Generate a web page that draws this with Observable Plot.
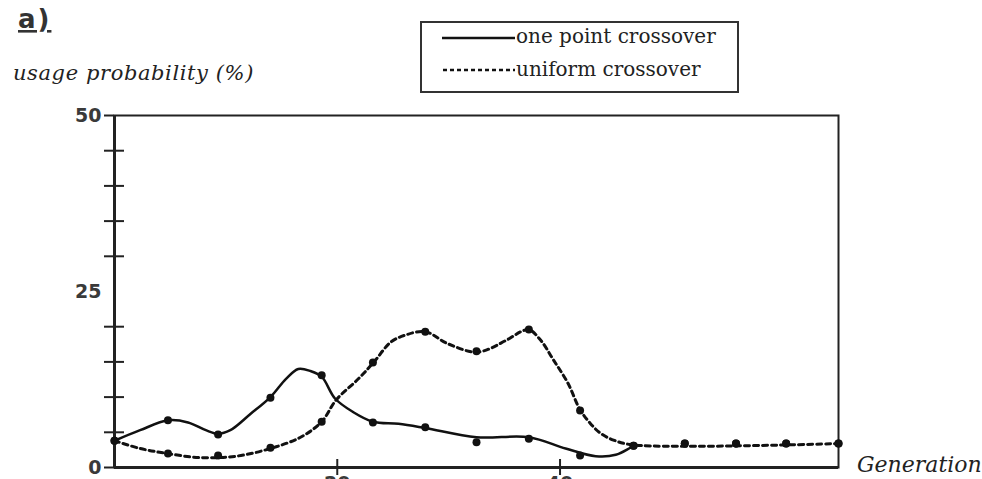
<!DOCTYPE html>
<html><head><meta charset="utf-8">
<script src="https://cdn.jsdelivr.net/npm/d3@7"></script>
<script src="https://cdn.jsdelivr.net/npm/@observablehq/plot@0.6"></script>
<style>
html,body{margin:0;padding:0;background:#fff;overflow:hidden}
#wrap{position:relative;width:982px;height:479px;background:#fff}
#chart{position:absolute;left:0;top:0}
#over{position:absolute;left:0;top:0;pointer-events:none}
</style></head><body>
<div id="wrap"><div id="chart"></div>
<svg id="over" width="982" height="479">
  <text x="18" y="28" font-family="DejaVu Sans" font-weight="bold" font-size="26" letter-spacing="2" fill="#333" text-decoration="underline">a)</text>
  <text x="13" y="80" font-family="DejaVu Serif" font-style="italic" font-size="21" letter-spacing="0.6" fill="#222">usage probability (%)</text>
  <text x="857" y="472" font-family="DejaVu Serif" font-style="italic" font-size="22" fill="#222">Generation</text>
  <rect x="421" y="22" width="317" height="70" fill="none" stroke="#333" stroke-width="2"/>
  <line x1="442" y1="38" x2="515" y2="38" stroke="#111" stroke-width="2.5"/>
  <line x1="443" y1="70" x2="515" y2="70" stroke="#111" stroke-width="2.5" stroke-dasharray="4,3"/>
  <text x="516" y="43" font-family="DejaVu Serif" font-size="20" fill="#222">one point crossover</text>
  <text x="516" y="76" font-family="DejaVu Serif" font-size="20" fill="#222">uniform crossover</text>
</svg>
</div>
<script>
// measured data points (generation, usage %)
const markerGenerations = [0,4.8,9.3,14,18.6,23.2,27.9,32.5,37.2,41.8,46.6,51.2,55.8,60.3,65];
const onePointValues   = [3.8,6.7,4.7,9.9,13.1,6.4,5.7,3.6,4.1,1.7,3.1,3.4,3.4,3.4,3.4];
const uniformValues    = [3.8,2.0,1.7,2.8,6.5,14.9,19.3,16.5,19.6,8.1,3.1,3.4,3.4,3.4,3.4];

// fitted curves
const onePointCurveGen = [0,2.3,4.8,6.6,8.2,9.3,10.4,12.2,14.0,15.4,16.5,17.6,18.6,19.8,21.4,23.2,25.5,27.9,32.5,37.2,40.5,43.2,45.0,46.6];
const onePointCurveVal = [3.8,5.3,6.7,6.4,5.3,4.8,5.3,7.6,10.0,12.6,14.0,13.7,12.9,9.8,7.9,6.5,6.2,5.6,4.3,4.3,2.7,1.6,1.8,3.1];
const uniformCurveGen = [0,2.3,4.7,7.7,10.9,14.0,16.7,18.6,19.9,21.9,23.3,24.8,26.1,27.9,29.9,32.6,35.2,36.5,37.2,38.25,39.4,40.7,41.8,42.7,43.6,44.8,46.6,65];
const uniformCurveVal = [3.8,2.7,2.0,1.4,1.6,2.7,4.3,6.5,9.6,12.6,15.0,17.8,18.8,19.3,17.6,16.4,18.1,19.3,19.6,18.1,15.3,12.0,8.2,6.3,4.9,3.9,3.2,3.4];

const yLabelTicks = [0,25,50];
const yStubTicks = [0,50];
const yMinorTicks = [5,10,15,20,30,35,40,45];
const xTicks = [20,40];

const pts = (g, v) => g.map((x, i) => ({x, y: v[i]}));
const oneDots = pts(markerGenerations, onePointValues);
const uniDots = pts(markerGenerations, uniformValues);
const oneCurve = pts(onePointCurveGen, onePointCurveVal);
const uniCurve = pts(uniformCurveGen, uniformCurveVal);

const chart = Plot.plot({
  width: 982, height: 479,
  marginLeft: 114, marginRight: 144, marginTop: 115, marginBottom: 12,
  style: {fontFamily: "DejaVu Sans", background: "transparent", color: "#222"},
  x: {domain: [0, 65], axis: null, label: null},
  y: {domain: [0, 50], axis: null, label: null},
  marks: [
    Plot.frame({stroke: "#222", strokeWidth: 2}),
    Plot.ruleX([0], {stroke: "#222", strokeWidth: 3}),
    Plot.ruleY([0], {stroke: "#222", strokeWidth: 3}),
    Plot.axisY({ticks: yMinorTicks, tickSize: 20, dx: 10, tickFormat: () => "", strokeWidth: 2, label: null}),
    Plot.axisY({ticks: yStubTicks, tickSize: 10, tickFormat: () => "", strokeWidth: 2, label: null}),
    Plot.axisY({ticks: yLabelTicks, tickSize: 0, tickPadding: 13, fontSize: 19, fontWeight: "bold", fill: "#3a3a3a", label: null}),
    Plot.axisX({ticks: xTicks, tickSize: 16, dy: -8, tickFormat: () => "", strokeWidth: 2, label: null}),
    Plot.axisX({ticks: xTicks, tickSize: 0, tickPadding: 9, fontSize: 19, fontWeight: "bold", fill: "#3a3a3a", label: null}),
    Plot.line(uniCurve, {x: "x", y: "y", curve: "catmull-rom", stroke: "#111", strokeWidth: 3, strokeDasharray: "5,4"}),
    Plot.line(oneCurve, {x: "x", y: "y", curve: "catmull-rom", stroke: "#111", strokeWidth: 2.5}),
    Plot.dot(uniDots, {x: "x", y: "y", r: 4, fill: "#111", stroke: "none"}),
    Plot.dot(oneDots, {x: "x", y: "y", r: 4, fill: "#111", stroke: "none"})
  ]
});
document.getElementById("chart").appendChild(chart);
</script>
</body></html>
